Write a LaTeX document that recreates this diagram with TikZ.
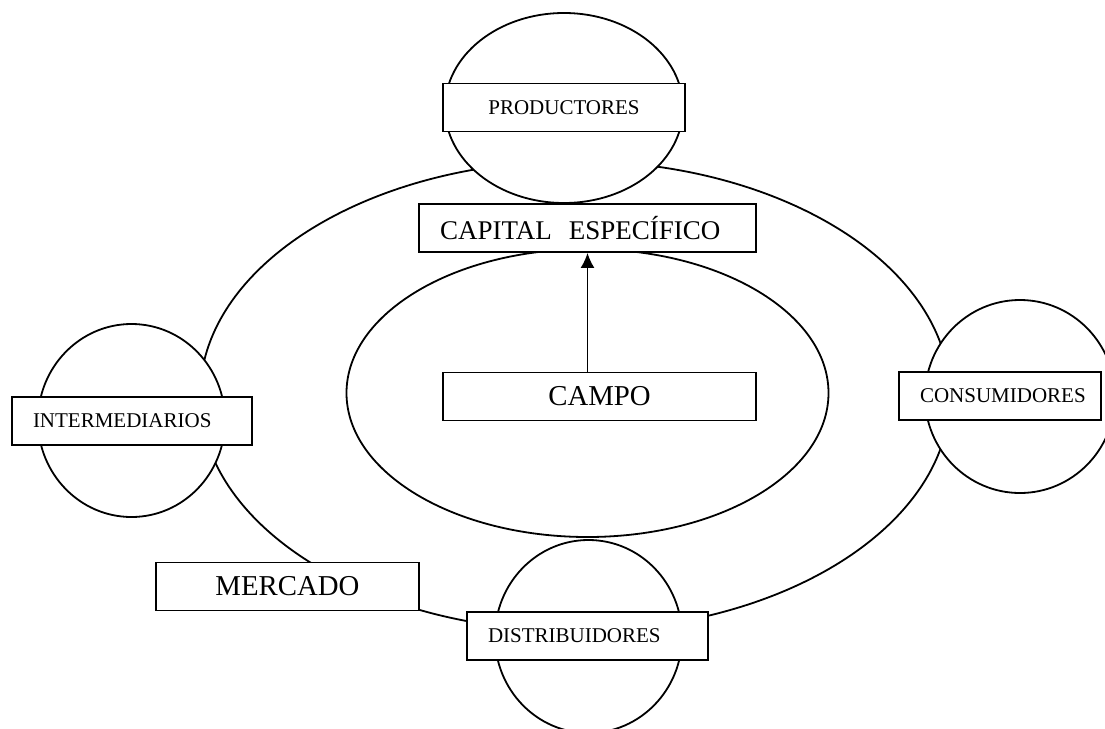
\documentclass[tikz,border=0pt]{standalone}
\usepackage{fontspec}
\setmainfont{Liberation Serif}
\usetikzlibrary{shapes,arrows.meta}

\begin{document}
\begin{tikzpicture}[x=1pt, y=1pt, line width=1.8pt]
      % fix the frame to the size of the page
      \useasboundingbox (0,0) rectangle (1105,-728);
      \tikzstyle{caja} = [rectangle, draw, fill=white, inner sep=0pt, minimum height=48pt]
      \tikzstyle{izq} = [caja, align=left, inner xsep=21pt]
      \tikzstyle{chico} = [font=\fontsize{21}{25}\selectfont]
      \tikzstyle{grande} = [font=\fontsize{28.8}{32}\selectfont]
      \tikzstyle{circulo} = [ellipse, draw, fill=white, inner sep=0pt]
      \tikzstyle{anillo} = [ellipse, draw, inner sep=0pt]
      \tikzstyle{linea} = [draw, -{Latex[length=15pt, width=14pt]}]
        % the two rings behind everything
        \node [anillo, minimum width=750pt, minimum height=470pt] (circuito) at (575,-396) {};
        \node [anillo, minimum width=482pt, minimum height=288pt] (nucleo) at (587.5,-393) {};
        % the four agents
        \node [circulo, minimum width=238pt, minimum height=190pt] (cprod) at (564,-108) {};
        \node [circulo, minimum width=187pt, minimum height=193pt] (cinter) at (131.5,-420.5) {};
        \node [circulo, minimum width=190pt, minimum height=193pt] (ccons) at (1020,-396.5) {};
        \node [circulo, minimum width=187pt, minimum height=193pt] (cdist) at (588.5,-636.5) {};
        \node [caja, chico, minimum width=242pt] (prod) at (564,-107.5) {PRODUCTORES};
        \node [izq, chico, text width=198pt] (inter) at (132,-421) {INTERMEDIARIOS};
        \node [izq, chico, text width=160pt] (cons) at (1000,-396) {CONSUMIDORES};
        \node [izq, chico, text width=199pt] (dist) at (587.5,-636) {DISTRIBUIDORES};
        \node [izq, font=\fontsize{27}{31}\selectfont, text width=295pt] (capital) at (587.5,-228) {CAPITAL\hspace{17pt}ESPECÍFICO};
        \node [caja, grande, minimum width=313pt] (campo) at (599.5,-396.5) {CAMPO};
        \node [caja, grande, minimum width=263pt] (merc) at (287.5,-586.5) {MERCADO};
        \path [linea] (campo.north -| capital.south) -- (capital.south);
\end{tikzpicture}
\end{document}
